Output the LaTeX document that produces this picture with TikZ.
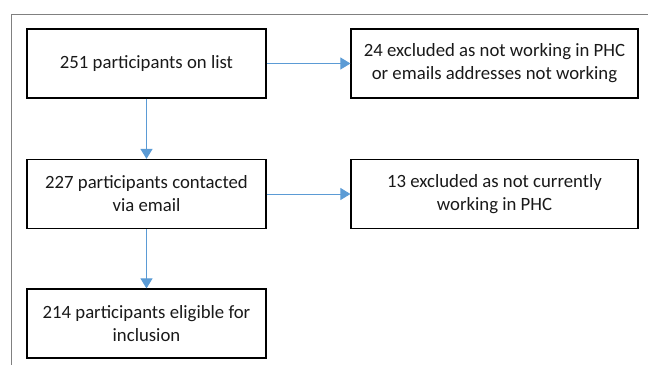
\documentclass[tikz,border=0pt]{standalone}
\usepackage{fontspec}
\setmainfont{Carlito}
\usetikzlibrary{arrows.meta,positioning}
\definecolor{flowblue}{HTML}{5B9BD5}
\definecolor{framegray}{HTML}{808080}

\begin{document}
\begin{tikzpicture}[x=0.03cm, y=-0.03cm,
  box/.style={draw, line width=1pt, minimum height=2.07cm, align=center,
    text=black!90, font=\fontsize{16}{19.6}\selectfont},
  flow/.style={draw=flowblue, line width=0.8pt,
    -{Triangle[width=0.36cm, length=0.3cm, fill=flowblue]}}]
  \useasboundingbox (0,0) rectangle (648,365);
  % --- cadre ---
  \draw[framegray, line width=0.8pt] (648,14) -- (11,14) -- (11,365);
  % --- colonne principale ---
  \node[box, minimum width=7.17cm] (list) at (146.5,63.5) {251 participants on list};
  \node[box, minimum width=7.17cm] (contact) at (146.5,194) {227 participants contacted\\via email};
  \node[box, minimum width=7.17cm] (eligible) at (146.5,323.5) {214 participants eligible for\\inclusion};
  % --- exclusions ---
  \node[box, minimum width=8.61cm] (excl1) at (494.5,63.5) {24 excluded as not working in PHC\\or emails addresses not working};
  \node[box, minimum width=8.61cm] (excl2) at (494.5,194) {13 excluded as not currently\\working in PHC};
  % --- fleches ---
  \draw[flow] (list) -- (contact);
  \draw[flow] (contact) -- (eligible);
  \draw[flow] (list) -- (excl1);
  \draw[flow] (contact) -- (excl2);
\end{tikzpicture}
\end{document}
